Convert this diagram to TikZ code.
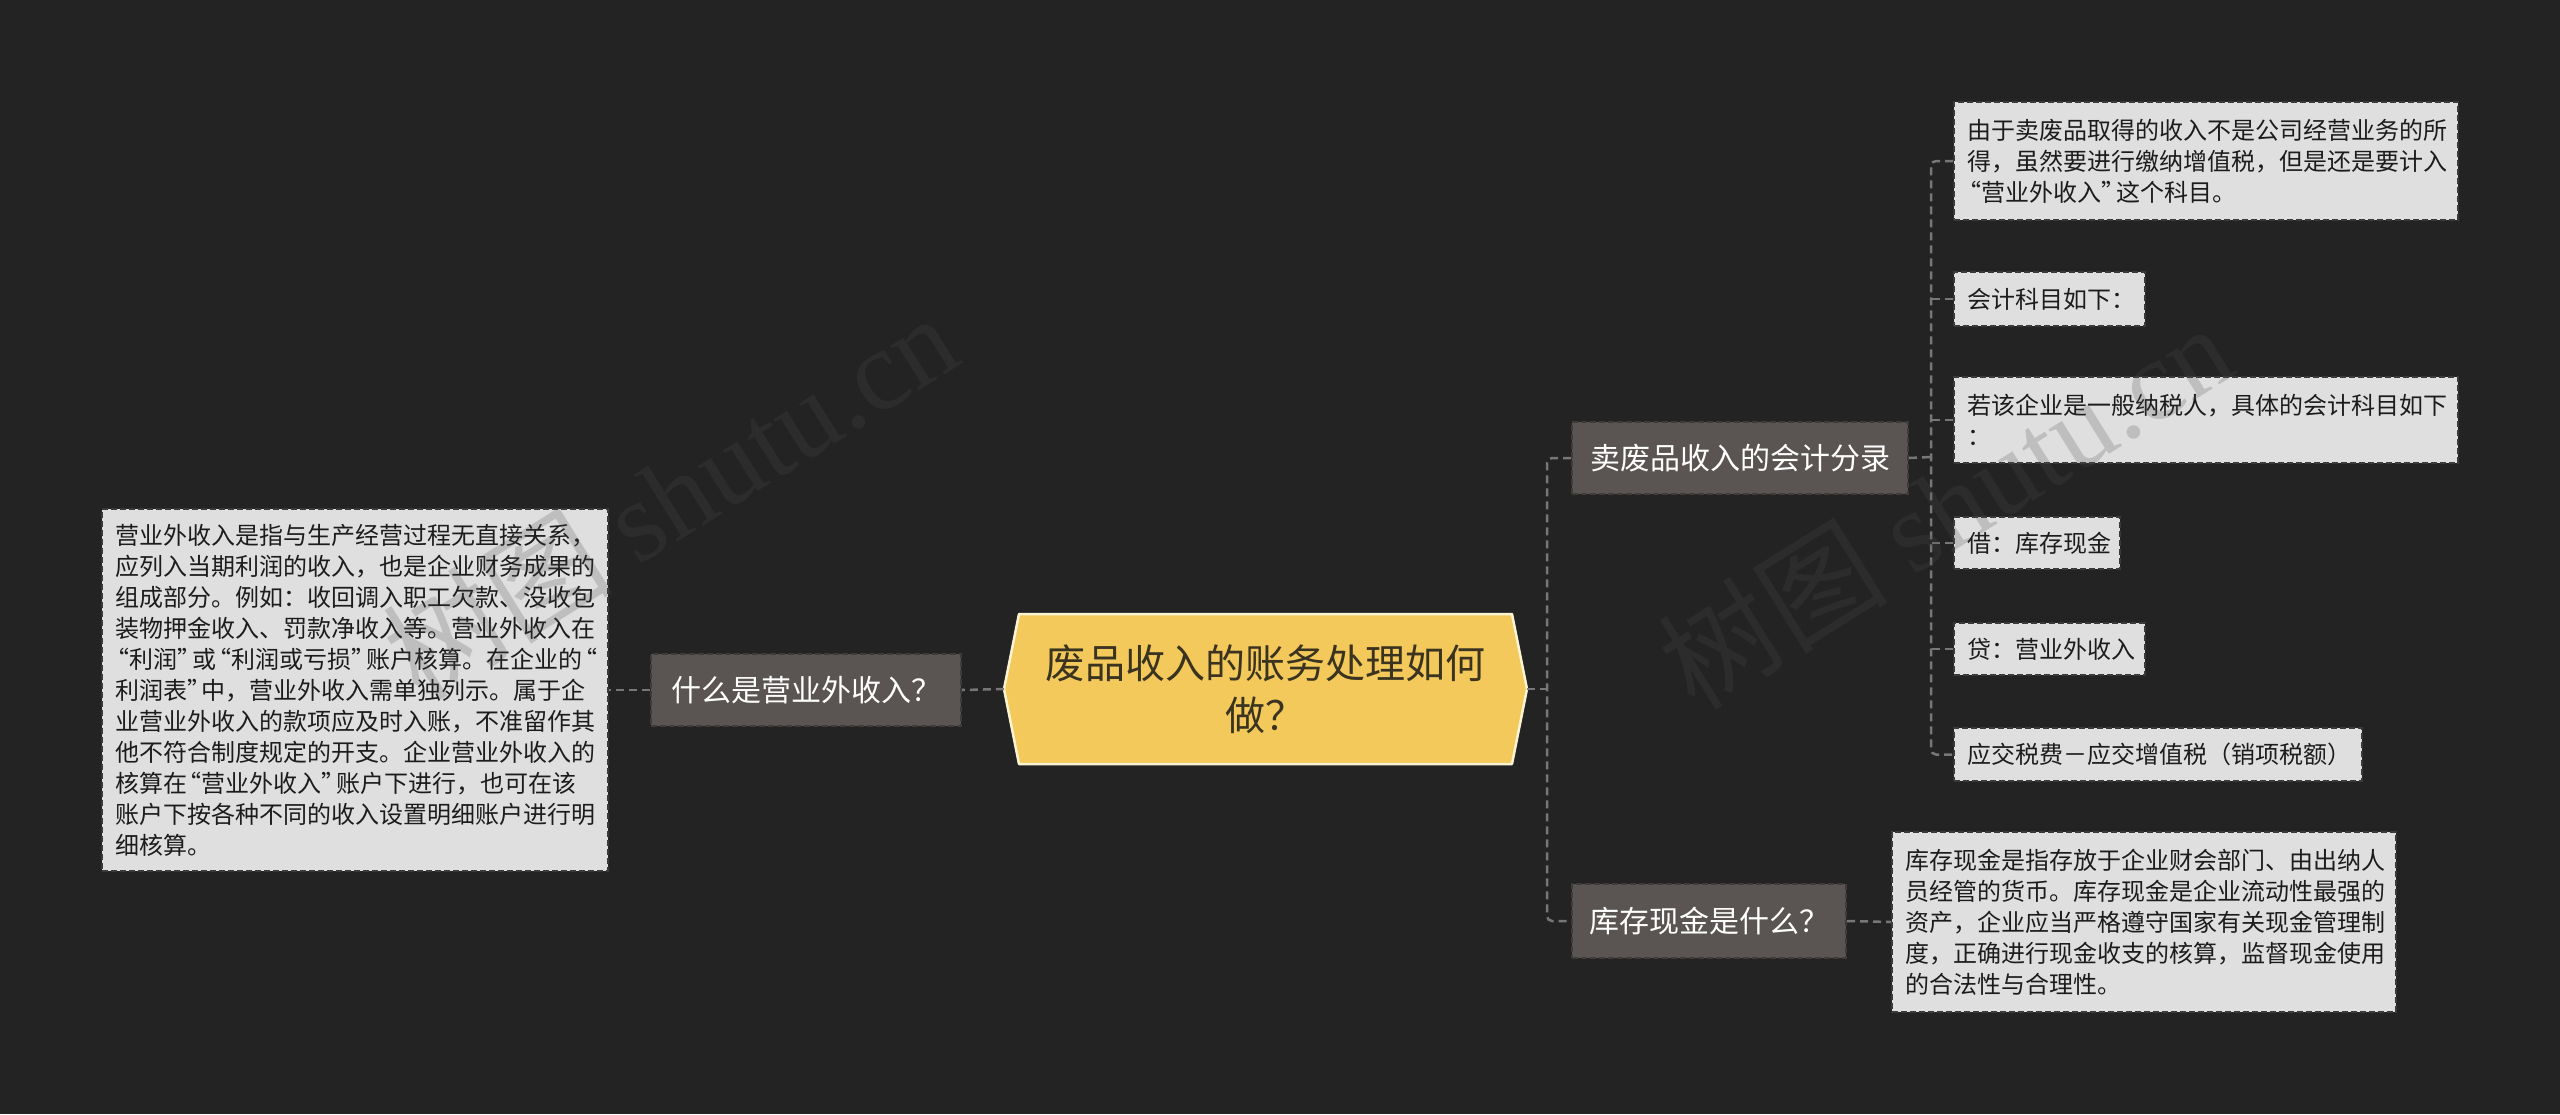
\documentclass[tikz,border=0pt]{standalone}
\usepackage{fontspec}
\setmainfont{Noto Sans CJK SC}
\newfontfamily\wmlatin{Liberation Serif}
\usetikzlibrary{calc}
\newcommand\zlq{\makebox[0.62em][r]{“}}
\newcommand\zrq{\makebox[0.62em][l]{”}}
\definecolor{bgc}{HTML}{232323}
\definecolor{lvlone}{HTML}{5A5552}
\definecolor{lvloneborder}{HTML}{3E3B39}
\definecolor{leaffill}{HTML}{DFDFDF}
\definecolor{leafborder}{HTML}{3A3A3A}
\definecolor{leafedge}{HTML}{F2F2F2}
\definecolor{leaftext}{HTML}{1C1C1C}
\definecolor{rootfill}{HTML}{F4C95B}
\definecolor{rootborder}{HTML}{FBF3D2}
\definecolor{roottext}{HTML}{3A3320}
\definecolor{connc}{HTML}{777777}
\definecolor{wmc}{HTML}{4D4D4D}
\begin{document}
\begin{tikzpicture}[x=1pt,y=-1pt,
  conn/.style={draw=connc, line width=2.5pt, dash pattern=on 8pt off 5pt},
  topic/.style={draw=lvloneborder, fill=lvlone, line width=2pt, dash pattern=on 6pt off 3pt,
    text=white, font=\fontsize{30}{38}\selectfont, inner sep=0pt, anchor=north west},
  leaf/.style={preaction={draw=leafedge, line width=2.5pt}, draw=leafborder, fill=leaffill,
    line width=2pt, dash pattern=on 6pt off 3pt,
    text=leaftext, font=\fontsize{24}{31}\selectfont, align=left, inner xsep=13pt,
    inner ysep=0pt, anchor=north west},
  wmark/.style={text=wmc, text opacity=0.22, font=\fontsize{115}{115}\selectfont, rotate=32, inner sep=0pt}]
\fill[bgc] (0,0) rectangle (2560,1114);
\useasboundingbox (0,0) rectangle (2560,1114);

% root
\fill[rootfill] (1004,689) -- (1019,614) -- (1512,614) -- (1527,689) -- (1512,764) -- (1019,764) -- cycle;
\draw[rootborder, line width=2.5pt, line join=round] (1004,689) -- (1019,614) -- (1512,614) -- (1527,689) -- (1512,764) -- (1019,764) -- cycle;
\node[minimum width=523pt, minimum height=150pt, inner sep=0pt, align=center, text=roottext,
  font=\fontsize{40}{52}\selectfont] (root) at (1265.5,689) {废品收入的账务处理如何\\做？};

% left side
\node[topic, minimum width=310pt, minimum height=72pt] (q1) at (650,653) {什么是营业外收入？};
\node[leaf, text width=480pt, minimum height=362pt] (L) at (101,508) {营业外收入是指与生产经营过程无直接关系，\\应列入当期利润的收入，也是企业财务成果的\\组成部分。例如：收回调入职工欠款、没收包\\装物押金收入、罚款净收入等。营业外收入在\\\zlq 利润\zrq 或\zlq 利润或亏损\zrq 账户核算。在企业的\zlq\\利润表\zrq 中，营业外收入需单独列示。属于企\\业营业外收入的款项应及时入账，不准留作其\\他不符合制度规定的开支。企业营业外收入的\\核算在\zlq 营业外收入\zrq 账户下进行，也可在该\\账户下按各种不同的收入设置明细账户进行明\\细核算。};

% right side topics
\node[topic, minimum width=336pt, minimum height=72pt] (A) at (1571,421) {卖废品收入的会计分录};
\node[topic, minimum width=274pt, minimum height=74pt] (B) at (1571,883) {库存现金是什么？};

% leaves of A
\node[leaf, text width=478pt, minimum height=118pt] (R1) at (1953,101) {由于卖废品取得的收入不是公司经营业务的所\\得，虽然要进行缴纳增值税，但是还是要计入\\\zlq 营业外收入\zrq 这个科目。};
\node[leaf, text width=165pt, minimum height=54pt] (R2) at (1953,271) {会计科目如下：};
\node[leaf, text width=478pt, minimum height=86pt] (R3) at (1953,376) {若该企业是一般纳税人，具体的会计科目如下\\：};
\node[leaf, text width=140pt, minimum height=52pt] (R4) at (1953,516) {借：库存现金};
\node[leaf, text width=165pt, minimum height=52pt] (R5) at (1953,622) {贷：营业外收入};
\node[leaf, text width=382pt, minimum height=53pt] (R6) at (1953,727) {应交税费－应交增值税（销项税额）};

% leaf of B
\node[leaf, text width=478pt, minimum height=180pt] (C) at (1891,831) {库存现金是指存放于企业财会部门、由出纳人\\员经管的货币。库存现金是企业流动性最强的\\资产，企业应当严格遵守国家有关现金管理制\\度，正确进行现金收支的核算，监督现金使用\\的合法性与合理性。};

% connectors
\coordinate (trunkR) at (1547,689);
\coordinate (trunkA) at (1931,457);
\draw[conn] (root.west) -- (q1.east);
\draw[conn] (q1.west) -- (L.east);
\draw[conn] (root.east) -- (trunkR);
\draw[conn, rounded corners=5pt] (A.west) -| (trunkR) |- (B.west);
\draw[conn] (A.east) -- (trunkA);
\draw[conn, rounded corners=5pt] (R1.west) -| (trunkA) |- (R6.west);
\draw[conn] (R2.west) -- (R2.west -| trunkA);
\draw[conn] (R3.west) -- (R3.west -| trunkA);
\draw[conn] (R4.west) -- (R4.west -| trunkA);
\draw[conn] (R5.west) -- (R5.west -| trunkA);
\draw[conn] (B.east) -- (C.west);

% watermarks
\node[wmark] (wm1) at (670,495) {树图 {\wmlatin shutu.cn}};
\node[wmark] (wm2) at (1945,505) {树图 {\wmlatin shutu.cn}};
\end{tikzpicture}
\end{document}
